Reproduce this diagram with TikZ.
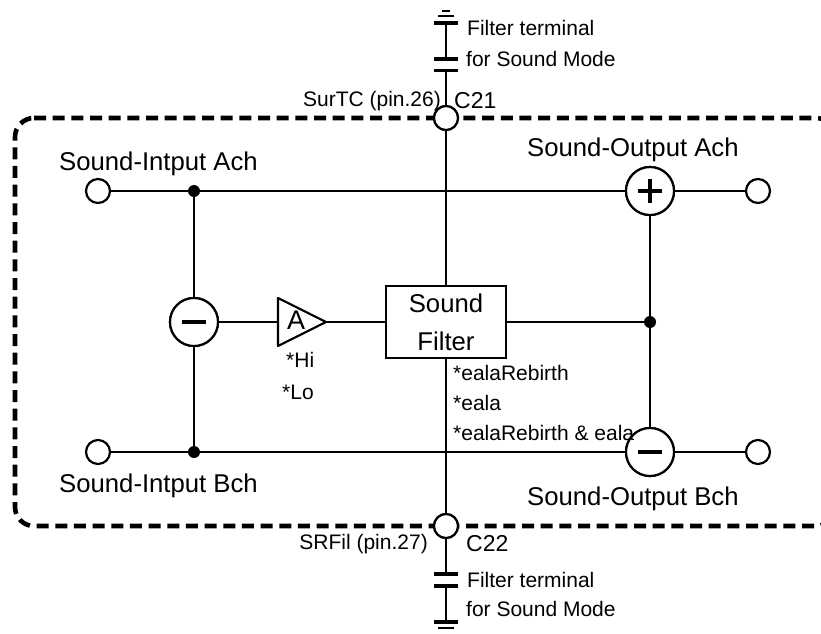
\documentclass[tikz,border=0pt]{standalone}
\usepackage{fontspec}
\setmainfont{Liberation Sans}
\newcommand{\fa}{\fontsize{25.7}{29}\selectfont}
\newcommand{\fb}{\fontsize{21}{24}\selectfont}
\tikzset{
 wire/.style={draw=black,line width=2.1pt},
 port/.style={circle,draw=black,line width=2.2pt,fill=white,minimum size=24pt,inner sep=0pt},
 mix/.style={circle,draw=black,line width=2.2pt,fill=white,minimum size=48pt,inner sep=0pt},
 junction/.style={circle,fill=black,minimum size=12pt,inner sep=0pt},
 plate/.style={line width=3.6pt},
 thin plate/.style={line width=2pt},
 sign/.style={line width=4.8pt},
 big/.style={font=\fa,anchor=west,inner sep=0pt},
 mid/.style={font=\fb,anchor=west,inner sep=0pt},
}
\begin{document}
\begin{tikzpicture}[x=1pt,y=-1pt]
\useasboundingbox (0,0) rectangle (821,633);
\clip (0,0) rectangle (821,633);
% enclosure
\draw[line width=4.6pt,dash pattern=on 12pt off 6.67pt,rounded corners=19pt] (34,118) -- (835,118) -- (835,526) -- (15,526) -- (15,118) -- (34,118);
% anchors
\node[port] (inA) at (98,191) {};
\node[port] (inB) at (98,452) {};
\node[port] (outA) at (758,191) {};
\node[port] (outB) at (758,452) {};
\node[port] (c21) at (446,118) {};
\node[port] (c22) at (446,526) {};
\node[mix] (plus) at (650,191) {};
\node[mix] (minusL) at (194,322) {};
\node[mix] (minusR) at (650,452) {};
\node[junction] (dA) at (194,191) {};
\node[junction] (dB) at (194,452) {};
\node[junction] (dR) at (650,322) {};
\node[draw=black,line width=2.2pt,fill=white,minimum width=120pt,minimum height=72pt,inner sep=0pt,align=center,font=\fa] (filt) at (446,322) {Sound\\[9pt]Filter};
\coordinate (ampL) at (278,322);
\coordinate (ampR) at (326,322);
% wires
\draw[wire] (inA) -- (dA) -- (plus) (plus) -- (outA);
\draw[wire] (inB) -- (dB) -- (minusR) (minusR) -- (outB);
\draw[wire] (dA) -- (minusL) (minusL) -- (dB);
\draw[wire] (plus) -- (dR) -- (minusR);
\draw[wire] (c21) -- (filt) (filt) -- (c22);
\draw[wire] (filt) -- (dR);
\draw[wire] (minusL) -- (ampL) (ampR) -- (filt);
% redraw on top of wires
\node[port] at (c21) {};
\node[port] at (c22) {};
\node[mix] at (plus) {};
\node[mix] at (minusR) {};
\node[mix] at (minusL) {};
% signs
\draw[sign] (638,191) -- (662,191) (650,179) -- (650,203);
\draw[sign] (182,322) -- (206,322);
\draw[sign] (638,452) -- (662,452);
% amp
\draw[line width=2.2pt,line join=round,fill=white] (278,298) -- (326,322) -- (278,346) -- cycle;
\node[font=\fontsize{27}{29}\selectfont,inner sep=0pt] (ampT) at (296,320) {A};
% top cap
\coordinate (t1) at (446,23);
\coordinate (t2) at (446,59);
\coordinate (t3) at (446,70);
\draw[wire] (t1) -- (t2) (t3) -- (c21);
\draw[plate] (434,23) -- (458,23) (434,59) -- (458,59) (434,70.5) -- (458,70.5);
\draw[thin plate] (438,15.5) -- (454,15.5) (442,10.5) -- (450,10.5);
% bottom cap
\coordinate (b1) at (446,574);
\coordinate (b2) at (446,586);
\coordinate (b3) at (446,622);
\draw[wire] (c22) -- (b1) (b2) -- (b3);
\draw[plate] (434,574) -- (458,574) (434,586) -- (458,586) (434,622) -- (458,622);
\draw[thin plate] (438,628) -- (454,628);
% labels
\node[big] (l1) at (59,164) {Sound-Intput Ach};
\node[big] (l2) at (59,486) {Sound-Intput Bch};
\node[big] (l3) at (527,150) {Sound-Output Ach};
\node[big] (l4) at (527,499) {Sound-Output Bch};
\node[big] (l5) at (454,101) {\fontsize{23}{26}\selectfont C21};
\node[big] (l6) at (466,544) {\fontsize{23}{26}\selectfont C22};
\node[mid] (l7) at (467,28) {Filter terminal};
\node[mid] (l8) at (466,59) {for Sound Mode};
\node[mid] (l9) at (467,580) {Filter terminal};
\node[mid] (l10) at (466,609) {for Sound Mode};
\node[mid,anchor=east] (l11) at (441,101) {SurTC (pin.26)};
\node[mid,anchor=east] (l12) at (428,544) {SRFil (pin.27)};
\node[mid] (l13) at (286,360) {*Hi};
\node[mid] (l14) at (282,392) {*Lo};
\node[mid] (l15) at (453,373) {*ealaRebirth};
\node[mid] (l16) at (453,403) {*eala};
\node[mid] (l17) at (453,433) {*ealaRebirth \& eala};
\end{tikzpicture}
\end{document}
